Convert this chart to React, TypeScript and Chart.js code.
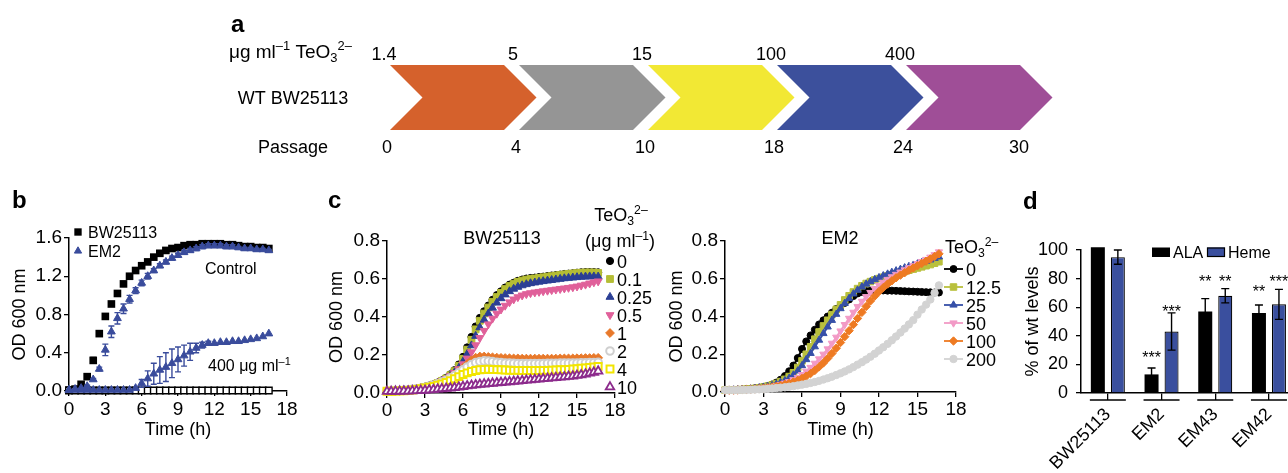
import React, { useEffect, useRef } from 'react';
import { Chart, registerables } from 'chart.js';
import { drawPoint } from 'chart.js/helpers';

Chart.register(...registerables);

const FONT = '"Liberation Sans", Arial, Helvetica, sans-serif';
const PAGE_W = 1288;
const PAGE_H = 473;

// ---------------- Panel a: passage scheme ----------------
const PASSAGES = ['0', '4', '10', '18', '24', '30'];
const TEO3_STEPS = ['1.4', '5', '15', '100', '400'];
const STEP_COLORS = ['#d5612c', '#959595', '#f2e834', '#3c509c', '#9f4e97'];

// ---------------- Panel b: growth curves ----------------
const TIME_B = [0, 0.5, 1, 1.5, 2, 2.5, 3, 3.5, 4, 4.5, 5, 5.5, 6, 6.5, 7, 7.5, 8, 8.5, 9, 9.5, 10, 10.5, 11, 11.5, 12, 12.5, 13, 13.5, 14, 14.5, 15, 15.5, 16, 16.5];
const B_BW_CONTROL = [0.01, 0.02, 0.07, 0.15, 0.32, 0.6, 0.78, 0.91, 1.02, 1.12, 1.2, 1.26, 1.31, 1.35, 1.4, 1.44, 1.47, 1.49, 1.5, 1.52, 1.53, 1.53, 1.54, 1.54, 1.54, 1.54, 1.53, 1.53, 1.52, 1.51, 1.51, 1.5, 1.5, 1.49];
const B_BW_CONTROL_SD = [0, 0, 0, 0.01, 0.03, 0.02, 0.01, 0.01, 0, 0, 0, 0, 0, 0, 0, 0, 0, 0, 0, 0, 0, 0, 0, 0, 0, 0, 0, 0, 0, 0, 0, 0, 0, 0];
const B_BW_400 = [0.005, 0.005, 0.005, 0.005, 0.005, 0.005, 0.005, 0.005, 0.005, 0.005, 0.005, 0.005, 0.005, 0.005, 0.005, 0.005, 0.005, 0.005, 0.005, 0.005, 0.005, 0.005, 0.005, 0.005, 0.005, 0.005, 0.005, 0.005, 0.005, 0.005, 0.005, 0.005, 0.005, 0.005];
const B_EM2_CONTROL = [0.01, 0.02, 0.03, 0.05, 0.12, 0.23, 0.43, 0.62, 0.76, 0.86, 0.96, 1.05, 1.13, 1.2, 1.26, 1.31, 1.35, 1.39, 1.42, 1.45, 1.47, 1.49, 1.51, 1.52, 1.52, 1.52, 1.51, 1.51, 1.5, 1.49, 1.49, 1.48, 1.48, 1.47];
const B_EM2_CONTROL_SD = [0, 0, 0, 0.01, 0.01, 0.02, 0.06, 0.06, 0.06, 0.05, 0.04, 0.03, 0.03, 0.03, 0.02, 0.02, 0.02, 0.02, 0.02, 0.02, 0.02, 0.02, 0.02, 0.02, 0.02, 0.02, 0.02, 0.02, 0.01, 0.01, 0.01, 0.01, 0.01, 0.01];
const B_EM2_400 = [0.01, 0.01, 0.01, 0.01, 0.01, 0.01, 0.01, 0.01, 0.01, 0.01, 0.01, 0.03, 0.08, 0.13, 0.18, 0.22, 0.25, 0.29, 0.33, 0.37, 0.41, 0.45, 0.48, 0.5, 0.5, 0.51, 0.51, 0.52, 0.52, 0.53, 0.54, 0.55, 0.57, 0.6];
const B_EM2_400_SD = [0, 0, 0, 0, 0, 0, 0, 0, 0, 0, 0, 0, 0.04, 0.08, 0.11, 0.14, 0.15, 0.15, 0.13, 0.11, 0.09, 0.05, 0.03, 0.02, 0, 0, 0, 0, 0, 0, 0, 0, 0, 0];

// ---------------- Panel c: tellurite dose series ----------------
const TIME_C = [0, 0.33, 0.67, 1, 1.33, 1.67, 2, 2.33, 2.67, 3, 3.33, 3.67, 4, 4.33, 4.67, 5, 5.33, 5.67, 6, 6.33, 6.67, 7, 7.33, 7.67, 8, 8.33, 8.67, 9, 9.33, 9.67, 10, 10.33, 10.67, 11, 11.33, 11.67, 12, 12.33, 12.67, 13, 13.33, 13.67, 14, 14.33, 14.67, 15, 15.33, 15.67, 16, 16.33, 16.67];

const C_BW_LABELS = ['0', '0.1', '0.25', '0.5', '1', '2', '4', '10'];
const C_BW_0 = [0.010, 0.010, 0.012, 0.013, 0.015, 0.017, 0.020, 0.023, 0.027, 0.032, 0.038, 0.045, 0.055, 0.066, 0.080, 0.098, 0.120, 0.150, 0.190, 0.240, 0.295, 0.350, 0.395, 0.430, 0.460, 0.490, 0.515, 0.535, 0.555, 0.570, 0.580, 0.590, 0.597, 0.602, 0.605, 0.607, 0.610, 0.612, 0.615, 0.618, 0.620, 0.623, 0.626, 0.628, 0.630, 0.633, 0.635, 0.636, 0.636, 0.636, 0.635];
const C_BW_01 = [0.010, 0.010, 0.011, 0.012, 0.014, 0.016, 0.019, 0.022, 0.026, 0.031, 0.037, 0.044, 0.053, 0.064, 0.077, 0.094, 0.115, 0.143, 0.180, 0.228, 0.280, 0.335, 0.380, 0.418, 0.450, 0.480, 0.505, 0.527, 0.547, 0.563, 0.575, 0.585, 0.592, 0.597, 0.600, 0.603, 0.606, 0.609, 0.612, 0.615, 0.618, 0.621, 0.624, 0.627, 0.629, 0.631, 0.633, 0.634, 0.634, 0.634, 0.632];
const C_BW_025 = [0.010, 0.010, 0.011, 0.012, 0.014, 0.016, 0.019, 0.022, 0.026, 0.030, 0.036, 0.043, 0.052, 0.062, 0.074, 0.090, 0.108, 0.132, 0.165, 0.205, 0.250, 0.300, 0.345, 0.385, 0.418, 0.448, 0.475, 0.498, 0.518, 0.535, 0.548, 0.558, 0.566, 0.572, 0.577, 0.581, 0.585, 0.588, 0.591, 0.594, 0.597, 0.600, 0.603, 0.605, 0.607, 0.609, 0.611, 0.612, 0.613, 0.613, 0.612];
const C_BW_05 = [0.010, 0.010, 0.011, 0.012, 0.014, 0.016, 0.019, 0.022, 0.026, 0.030, 0.036, 0.043, 0.052, 0.062, 0.074, 0.089, 0.106, 0.126, 0.152, 0.182, 0.215, 0.252, 0.290, 0.328, 0.362, 0.392, 0.418, 0.440, 0.460, 0.478, 0.493, 0.505, 0.514, 0.521, 0.526, 0.530, 0.533, 0.536, 0.539, 0.542, 0.545, 0.548, 0.551, 0.554, 0.557, 0.561, 0.566, 0.571, 0.577, 0.583, 0.588];
const C_BW_1 = [0.010, 0.010, 0.011, 0.012, 0.014, 0.016, 0.019, 0.022, 0.026, 0.030, 0.036, 0.043, 0.051, 0.060, 0.071, 0.084, 0.098, 0.114, 0.132, 0.152, 0.172, 0.186, 0.192, 0.192, 0.190, 0.188, 0.186, 0.185, 0.184, 0.183, 0.182, 0.182, 0.181, 0.181, 0.181, 0.181, 0.181, 0.181, 0.181, 0.181, 0.181, 0.182, 0.182, 0.182, 0.182, 0.183, 0.183, 0.184, 0.184, 0.185, 0.185];
const C_BW_2 = [0.010, 0.010, 0.011, 0.012, 0.014, 0.016, 0.019, 0.022, 0.025, 0.029, 0.035, 0.041, 0.049, 0.057, 0.067, 0.079, 0.092, 0.107, 0.122, 0.137, 0.150, 0.160, 0.166, 0.169, 0.168, 0.165, 0.162, 0.160, 0.158, 0.157, 0.156, 0.155, 0.155, 0.155, 0.155, 0.155, 0.155, 0.155, 0.156, 0.156, 0.156, 0.157, 0.157, 0.157, 0.158, 0.158, 0.159, 0.159, 0.160, 0.160, 0.161];
const C_BW_4 = [0.009, 0.009, 0.010, 0.011, 0.012, 0.014, 0.016, 0.019, 0.022, 0.026, 0.030, 0.035, 0.041, 0.048, 0.056, 0.065, 0.075, 0.086, 0.097, 0.106, 0.113, 0.118, 0.122, 0.124, 0.125, 0.124, 0.123, 0.122, 0.121, 0.120, 0.119, 0.119, 0.118, 0.118, 0.118, 0.118, 0.118, 0.119, 0.119, 0.120, 0.121, 0.122, 0.123, 0.124, 0.126, 0.128, 0.130, 0.132, 0.134, 0.137, 0.140];
const C_BW_10 = [0.008, 0.008, 0.009, 0.009, 0.010, 0.010, 0.011, 0.012, 0.013, 0.014, 0.016, 0.018, 0.020, 0.022, 0.024, 0.026, 0.028, 0.031, 0.034, 0.037, 0.040, 0.043, 0.045, 0.047, 0.049, 0.051, 0.053, 0.055, 0.057, 0.059, 0.061, 0.063, 0.065, 0.067, 0.069, 0.071, 0.073, 0.075, 0.077, 0.079, 0.081, 0.083, 0.085, 0.087, 0.089, 0.092, 0.095, 0.099, 0.104, 0.109, 0.115];
const C_BW_SERIES = [C_BW_0, C_BW_01, C_BW_025, C_BW_05, C_BW_1, C_BW_2, C_BW_4, C_BW_10];

const C_EM_LABELS = ['0', '12.5', '25', '50', '100', '200'];
const C_EM_0 = [0.010, 0.010, 0.011, 0.012, 0.013, 0.015, 0.017, 0.020, 0.023, 0.027, 0.032, 0.040, 0.050, 0.065, 0.085, 0.110, 0.140, 0.180, 0.228, 0.268, 0.300, 0.330, 0.358, 0.380, 0.400, 0.420, 0.440, 0.456, 0.472, 0.490, 0.508, 0.522, 0.530, 0.535, 0.537, 0.538, 0.538, 0.538, 0.537, 0.537, 0.536, 0.535, 0.534, 0.533, 0.532, 0.531, 0.530, 0.529, 0.528, 0.527, 0.527];
const C_EM_125 = [0.010, 0.010, 0.011, 0.012, 0.013, 0.015, 0.017, 0.019, 0.022, 0.026, 0.031, 0.037, 0.045, 0.055, 0.067, 0.082, 0.102, 0.130, 0.165, 0.200, 0.240, 0.280, 0.318, 0.350, 0.380, 0.410, 0.438, 0.462, 0.488, 0.510, 0.530, 0.548, 0.563, 0.575, 0.585, 0.594, 0.601, 0.608, 0.615, 0.621, 0.627, 0.633, 0.639, 0.645, 0.651, 0.657, 0.663, 0.669, 0.675, 0.682, 0.690];
const C_EM_25 = [0.010, 0.010, 0.011, 0.012, 0.013, 0.014, 0.016, 0.019, 0.022, 0.025, 0.029, 0.034, 0.041, 0.050, 0.060, 0.073, 0.090, 0.112, 0.140, 0.172, 0.205, 0.240, 0.275, 0.310, 0.345, 0.380, 0.412, 0.442, 0.470, 0.496, 0.520, 0.540, 0.557, 0.572, 0.585, 0.596, 0.606, 0.616, 0.625, 0.634, 0.642, 0.650, 0.658, 0.665, 0.672, 0.679, 0.686, 0.693, 0.700, 0.708, 0.716];
const C_EM_50 = [0.010, 0.010, 0.010, 0.011, 0.012, 0.013, 0.015, 0.017, 0.019, 0.022, 0.025, 0.029, 0.034, 0.040, 0.047, 0.055, 0.065, 0.077, 0.092, 0.110, 0.130, 0.152, 0.175, 0.200, 0.228, 0.258, 0.290, 0.323, 0.357, 0.390, 0.422, 0.452, 0.480, 0.505, 0.527, 0.547, 0.565, 0.581, 0.596, 0.610, 0.623, 0.635, 0.647, 0.658, 0.669, 0.680, 0.691, 0.702, 0.714, 0.727, 0.742];
const C_EM_100 = [0.010, 0.010, 0.010, 0.011, 0.012, 0.013, 0.014, 0.016, 0.018, 0.020, 0.023, 0.026, 0.030, 0.035, 0.040, 0.046, 0.053, 0.062, 0.072, 0.084, 0.098, 0.114, 0.133, 0.154, 0.178, 0.204, 0.232, 0.262, 0.293, 0.325, 0.357, 0.390, 0.422, 0.453, 0.482, 0.508, 0.532, 0.553, 0.572, 0.589, 0.605, 0.619, 0.632, 0.645, 0.657, 0.669, 0.681, 0.693, 0.705, 0.718, 0.732];
const C_EM_200 = [0.010, 0.010, 0.010, 0.010, 0.011, 0.011, 0.012, 0.013, 0.014, 0.015, 0.017, 0.019, 0.021, 0.023, 0.025, 0.028, 0.031, 0.035, 0.039, 0.043, 0.048, 0.053, 0.059, 0.066, 0.073, 0.081, 0.090, 0.099, 0.109, 0.120, 0.132, 0.145, 0.158, 0.172, 0.187, 0.203, 0.220, 0.237, 0.255, 0.274, 0.294, 0.315, 0.336, 0.358, 0.381, 0.410, 0.437, 0.463, 0.490, 0.525, 0.565];
const C_EM_SERIES = [C_EM_0, C_EM_125, C_EM_25, C_EM_50, C_EM_100, C_EM_200];

// ---------------- Panel d: ALA / heme levels ----------------
const D_STRAINS = ['BW25113', 'EM2', 'EM43', 'EM42'];
const D_ALA = [102, 13, 57, 56];
const D_ALA_SD = [0, 4.5, 9, 5.5];
const D_HEME = [95, 43, 68, 62];
const D_HEME_SD = [5, 13, 5, 10.5];
const D_ALA_STARS = ['', '***', '**', '**'];
const D_HEME_STARS = ['', '***', '**', '***'];
const D_ALA_STAR_AT = [0, 27, 80, 73];
const D_HEME_STAR_AT = [0, 59, 80, 80];

// ---------------- styles ----------------
const BLUE = '#3a4c9c';
const BLUE_D = '#3a4f9e';
const C_BW_STYLES = [
  { color: '#000000', fill: '#000000', style: 'circle', r: 3.6, rot: 0, bw: 1 },
  { color: '#b5bd35', fill: '#b5bd35', style: 'rect', r: 4.8, rot: 0, bw: 1 },
  { color: '#2b3f95', fill: '#2b3f95', style: 'triangle', r: 4.6, rot: 0, bw: 1 },
  { color: '#e0609a', fill: '#e0609a', style: 'triangle', r: 4.6, rot: 180, bw: 1 },
  { color: '#e8792b', fill: '#e8792b', style: 'rectRot', r: 4.4, rot: 0, bw: 1 },
  { color: '#cfcfcf', fill: '#ffffff', style: 'circle', r: 3.8, rot: 0, bw: 2 },
  { color: '#f2e500', fill: '#ffffff', style: 'rect', r: 4.9, rot: 0, bw: 2 },
  { color: '#8c2b8c', fill: '#ffffff', style: 'triangle', r: 4.9, rot: 0, bw: 1.8 },
];
const C_EM_STYLES = [
  { color: '#000000', style: 'circle', r: 3.5, rot: 0 },
  { color: '#b9c03d', style: 'rect', r: 4.6, rot: 0 },
  { color: '#3650a8', style: 'triangle', r: 4.2, rot: 0 },
  { color: '#f29ac6', style: 'triangle', r: 4.2, rot: 180 },
  { color: '#ee7a22', style: 'rectRot', r: 4.2, rot: 0 },
  { color: '#d3d3d3', style: 'circle', r: 3.7, rot: 0 },
];

type Area = { l: number; r: number; t: number; b: number };
type Seg = [string, string?];

function padding(area: Area, yW: number, xH: number, cw: number, ch: number) {
  return { left: area.l - yW, right: cw - area.r, top: area.t, bottom: ch - area.b - xH };
}

function valueAxis(o: any) {
  return {
    type: 'linear',
    min: o.min,
    max: o.max,
    ticks: {
      stepSize: o.step,
      color: '#000',
      font: { family: FONT, size: o.tickSize ?? 18 },
      padding: o.tickPad,
      autoSkip: false,
      maxRotation: 0,
      callback: (v: any) => Number(v).toFixed(o.dec),
    },
    grid: { display: true, drawOnChartArea: false, drawTicks: true, tickLength: o.tickLen ?? 5, color: '#000', lineWidth: 1.3 },
    border: { display: true, color: '#000', width: 1.5 },
    title: { display: true, text: o.title, color: '#000', font: { family: FONT, size: 18, lineHeight: 1 }, padding: 0 },
    afterFit: (s: any) => {
      if (o.horizontal) s.height = o.size;
      else s.width = o.size;
    },
  };
}

function pts(xs: number[], ys: number[]) {
  return xs.map((x, i) => ({ x, y: ys[i] }));
}

function txt(ctx: CanvasRenderingContext2D, s: string, x: number, y: number, size: number, align: CanvasTextAlign = 'left', weight = 'normal') {
  ctx.font = `${weight} ${size}px ${FONT}`;
  ctx.textAlign = align;
  ctx.textBaseline = 'alphabetic';
  ctx.fillStyle = '#000';
  ctx.fillText(s, x, y);
}

function rich(ctx: CanvasRenderingContext2D, segs: Seg[], x: number, y: number, size: number, align: 'left' | 'center' = 'left') {
  const small = size * 0.68;
  const ws = segs.map(([t, k]) => {
    ctx.font = `${k ? small : size}px ${FONT}`;
    return ctx.measureText(t).width;
  });
  const total = ws.reduce((a, b) => a + b, 0);
  let cx = align === 'center' ? x - total / 2 : x;
  ctx.textAlign = 'left';
  ctx.textBaseline = 'alphabetic';
  ctx.fillStyle = '#000';
  segs.forEach(([t, k], i) => {
    ctx.font = `${k ? small : size}px ${FONT}`;
    const dy = k === 'sup' ? -size * 0.4 : k === 'sub' ? size * 0.22 : 0;
    ctx.fillText(t, cx, y + dy);
    cx += ws[i];
  });
}

function marker(ctx: CanvasRenderingContext2D, st: any, x: number, y: number, fill?: string) {
  ctx.save();
  ctx.fillStyle = fill ?? st.fill ?? st.color;
  ctx.strokeStyle = st.color;
  ctx.lineWidth = st.bw ?? 1;
  drawPoint(ctx, { pointStyle: st.style, rotation: st.rot ?? 0, radius: st.r, borderWidth: st.bw ?? 1 } as any, x, y);
  ctx.restore();
}

const TEO3: Seg[] = [['TeO'], ['3', 'sub'], ['2–', 'sup']];
const UG_ML: Seg[] = [['μg ml'], ['–1', 'sup']];

const errorBars = {
  id: 'errorBars',
  afterDatasetsDraw(chart: any) {
    const ctx = chart.ctx;
    const ys = chart.scales.y;
    chart.data.datasets.forEach((ds: any, i: number) => {
      if (!ds.errors) return;
      const meta = chart.getDatasetMeta(i);
      ctx.save();
      ctx.strokeStyle = ds.errorColor;
      ctx.lineWidth = 1.4;
      meta.data.forEach((el: any, j: number) => {
        const e = ds.errors[j];
        if (!e) return;
        const raw = ds.data[j];
        const v = typeof raw === 'number' ? raw : raw.y;
        const top = ys.getPixelForValue(v + e);
        const bot = ys.getPixelForValue(v - e);
        const cap = ds.errorCap ?? 3;
        ctx.beginPath();
        ctx.moveTo(el.x, top);
        ctx.lineTo(el.x, bot);
        ctx.moveTo(el.x - cap, top);
        ctx.lineTo(el.x + cap, top);
        ctx.moveTo(el.x - cap, bot);
        ctx.lineTo(el.x + cap, bot);
        ctx.stroke();
      });
      ctx.restore();
    });
  },
};

const baseOpts = {
  responsive: false,
  animation: false,
  devicePixelRatio: 1,
  events: [],
};
const noLegend = { legend: { display: false }, tooltip: { enabled: false } };

function makeA(canvas: HTMLCanvasElement) {
  const area = { l: 390, r: 390 + 129 * STEP_COLORS.length, t: 65, b: 130 };
  const GAP = 15;
  return new Chart(canvas, {
    type: 'scatter',
    data: { datasets: [] },
    options: {
      ...baseOpts,
      plugins: noLegend,
      layout: { padding: { left: area.l, right: PAGE_W - area.r, top: area.t, bottom: PAGE_H - area.b } },
      scales: {
        x: { type: 'linear', min: 0, max: STEP_COLORS.length, display: false },
        y: { type: 'linear', min: 0, max: 1, display: false },
      },
    } as any,
    plugins: [
      {
        id: 'chevrons',
        afterDraw(chart: any) {
          const ctx = chart.ctx;
          const xs = chart.scales.x;
          const ys = chart.scales.y;
          const yT = ys.getPixelForValue(1);
          const yB = ys.getPixelForValue(0);
          const h2 = (yB - yT) / 2;
          const ym = yT + h2;
          STEP_COLORS.forEach((c, i) => {
            const xL = xs.getPixelForValue(i);
            const xR = xs.getPixelForValue(i + 1) - GAP;
            ctx.beginPath();
            ctx.moveTo(xL, yT);
            ctx.lineTo(xR, yT);
            ctx.lineTo(xR + h2, ym);
            ctx.lineTo(xR, yB);
            ctx.lineTo(xL, yB);
            ctx.lineTo(xL + h2, ym);
            ctx.closePath();
            ctx.fillStyle = c;
            ctx.fill();
          });
          TEO3_STEPS.forEach((s, i) => txt(ctx, s, xs.getPixelForValue(i) - 6, yT - 5.5, 18, 'center'));
          PASSAGES.forEach((s, i) => {
            const x = i < PASSAGES.length - 1 ? xs.getPixelForValue(i) - 3 : xs.getPixelForValue(i) - GAP - 1;
            txt(ctx, s, x, yB + 22.5, 18, 'center');
          });
          txt(ctx, 'a', 231, 32, 24, 'left', 'bold');
          rich(ctx, [...UG_ML, [' '], ...TEO3], 229, 58, 19);
          txt(ctx, 'WT BW25113', 293, ym + 6.5, 18, 'center');
          txt(ctx, 'Passage', 293, yB + 22.5, 18, 'center');
        },
      },
    ],
  });
}

function makeB(canvas: HTMLCanvasElement) {
  const area = { l: 69, r: 287, t: 238, b: 391 };
  const yW = 58;
  const xH = 48;
  const bwStyle = { color: '#000', fill: '#000', style: 'rect', r: 5.2, bw: 0 };
  const emStyle = { color: BLUE, fill: BLUE, style: 'triangle', r: 4.2, bw: 1 };
  return new Chart(canvas, {
    type: 'scatter',
    data: {
      datasets: [
        { data: pts(TIME_B, B_BW_CONTROL), pointStyle: 'rect', pointRadius: 5.4, pointBackgroundColor: '#000', pointBorderColor: '#000', pointBorderWidth: 0, errors: B_BW_CONTROL_SD, errorColor: '#000', order: 0, clip: false },
        { data: pts(TIME_B, B_BW_400), pointStyle: 'rect', pointRadius: 4.6, pointBackgroundColor: '#fff', pointBorderColor: '#000', pointBorderWidth: 1.4, order: -1, clip: false },
        { data: pts(TIME_B, B_EM2_CONTROL), pointStyle: 'triangle', pointRadius: 4.5, pointBackgroundColor: BLUE, pointBorderColor: BLUE, pointBorderWidth: 1, errors: B_EM2_CONTROL_SD, errorColor: BLUE, order: -2, clip: false },
        { data: pts(TIME_B, B_EM2_400), pointStyle: 'triangle', pointRadius: 4.5, pointBackgroundColor: BLUE, pointBorderColor: BLUE, pointBorderWidth: 1, errors: B_EM2_400_SD, errorColor: BLUE, order: -3, clip: false },
      ],
    },
    options: {
      ...baseOpts,
      plugins: noLegend,
      layout: { padding: padding(area, yW, xH, PAGE_W, PAGE_H) },
      scales: {
        x: valueAxis({ min: 0, max: 18, step: 3, dec: 0, title: 'Time (h)', horizontal: true, size: xH, tickPad: 2, tickSize: 19 }),
        y: valueAxis({ min: 0, max: 1.6, step: 0.4, dec: 1, title: 'OD 600 nm', horizontal: false, size: yW, tickPad: 2, tickSize: 19 }),
      },
    } as any,
    plugins: [
      errorBars,
      {
        id: 'annotB',
        afterDraw(chart: any) {
          const ctx = chart.ctx;
          txt(ctx, 'b', 12, 208, 24, 'left', 'bold');
          marker(ctx, bwStyle, 78, 232);
          txt(ctx, 'BW25113', 88, 238, 16);
          marker(ctx, emStyle, 78, 251);
          txt(ctx, 'EM2', 88, 257, 16);
          txt(ctx, 'Control', 205, 274, 16);
          rich(ctx, [['400 '], ...UG_ML], 208, 371, 16);
        },
      },
    ],
  });
}

function makeCBW(canvas: HTMLCanvasElement) {
  const area = { l: 387, r: 615, t: 241, b: 393 };
  const yW = 59;
  const xH = 46;
  return new Chart(canvas, {
    type: 'scatter',
    data: {
      datasets: C_BW_SERIES.map((ys, i) => {
        const st = C_BW_STYLES[i];
        return {
          data: pts(TIME_C, ys),
          pointStyle: st.style,
          pointRotation: st.rot,
          pointRadius: st.r,
          pointBackgroundColor: st.fill,
          pointBorderColor: st.color,
          pointBorderWidth: st.bw,
          showLine: false,
          order: -i,
          clip: false,
        };
      }),
    },
    options: {
      ...baseOpts,
      plugins: noLegend,
      layout: { padding: padding(area, yW, xH, PAGE_W, PAGE_H) },
      scales: {
        x: valueAxis({ min: 0, max: 18, step: 3, dec: 0, title: 'Time (h)', horizontal: true, size: xH, tickPad: 1, tickSize: 19 }),
        y: valueAxis({ min: 0, max: 0.8, step: 0.2, dec: 1, title: 'OD 600 nm', horizontal: false, size: yW, tickPad: 2, tickSize: 19 }),
      },
    } as any,
    plugins: [
      {
        id: 'annotCBW',
        afterDraw(chart: any) {
          const ctx = chart.ctx;
          txt(ctx, 'c', 328, 208, 24, 'left', 'bold');
          txt(ctx, 'BW25113', 502, 243.5, 18, 'center');
          rich(ctx, TEO3, 621, 221, 18, 'center');
          rich(ctx, [['('], ...UG_ML, [')']], 620, 247, 18, 'center');
          C_BW_LABELS.forEach((lab, i) => {
            const y = 261 + 18 * i;
            marker(ctx, C_BW_STYLES[i], 610, y);
            txt(ctx, lab, 617, y + 6.5, 18);
          });
        },
      },
    ],
  });
}

function makeCEM(canvas: HTMLCanvasElement) {
  const area = { l: 725, r: 956, t: 241, b: 392 };
  const yW = 57;
  const xH = 47;
  return new Chart(canvas, {
    type: 'scatter',
    data: {
      datasets: C_EM_SERIES.map((ys, i) => {
        const st = C_EM_STYLES[i];
        return {
          data: pts(TIME_C, ys),
          showLine: true,
          borderColor: st.color,
          borderWidth: 2,
          pointStyle: st.style,
          pointRotation: st.rot,
          pointRadius: st.r,
          pointBackgroundColor: st.color,
          pointBorderColor: st.color,
          pointBorderWidth: 1,
          order: -i,
          clip: false,
        };
      }),
    },
    options: {
      ...baseOpts,
      plugins: noLegend,
      layout: { padding: padding(area, yW, xH, PAGE_W, PAGE_H) },
      scales: {
        x: valueAxis({ min: 0, max: 18, step: 3, dec: 0, title: 'Time (h)', horizontal: true, size: xH, tickPad: 1, tickSize: 19 }),
        y: valueAxis({ min: 0, max: 0.8, step: 0.2, dec: 1, title: 'OD 600 nm', horizontal: false, size: yW, tickPad: 2, tickSize: 19 }),
      },
    } as any,
    plugins: [
      {
        id: 'annotCEM',
        afterDraw(chart: any) {
          const ctx = chart.ctx;
          txt(ctx, 'EM2', 840, 243.5, 18, 'center');
          rich(ctx, TEO3, 945, 253, 18);
          C_EM_LABELS.forEach((lab, i) => {
            const y = 269 + 18 * i;
            const st = C_EM_STYLES[i];
            ctx.save();
            ctx.strokeStyle = st.color;
            ctx.lineWidth = 1.8;
            ctx.beginPath();
            ctx.moveTo(944, y);
            ctx.lineTo(963, y);
            ctx.stroke();
            ctx.restore();
            marker(ctx, { ...st, bw: 1 }, 953.5, y, st.color);
            txt(ctx, lab, 966, y + 6.5, 18);
          });
        },
      },
    ],
  });
}

function makeD(canvas: HTMLCanvasElement, cw: number) {
  const area = { l: 1081, r: 1081 + 53.7 * D_STRAINS.length, t: 250, b: 393 };
  const yW = 57;
  const xH = 80;
  return new Chart(canvas, {
    type: 'bar',
    data: {
      labels: D_STRAINS,
      datasets: [
        { label: 'ALA', data: D_ALA, errors: D_ALA_SD, errorColor: '#000', errorCap: 4, stars: D_ALA_STARS, starAt: D_ALA_STAR_AT, backgroundColor: '#000', borderColor: '#000', borderWidth: 0, barPercentage: 0.7, categoryPercentage: 0.745, clip: false },
        { label: 'Heme', data: D_HEME, errors: D_HEME_SD, errorColor: '#000', errorCap: 4, stars: D_HEME_STARS, starAt: D_HEME_STAR_AT, backgroundColor: BLUE_D, borderColor: '#000', borderWidth: 1.2, barPercentage: 0.7, categoryPercentage: 0.745, clip: false },
      ],
    },
    options: {
      ...baseOpts,
      plugins: noLegend,
      layout: { padding: padding(area, yW, xH, cw, PAGE_H) },
      scales: {
        x: {
          type: 'category',
          offset: true,
          grid: { display: true, offset: false, drawOnChartArea: false, drawTicks: true, tickLength: 7, color: '#000', lineWidth: 1.3 },
          border: { display: true, color: '#000', width: 1.5 },
          ticks: { color: '#000', font: { family: FONT, size: 18 }, minRotation: 45, maxRotation: 45, padding: 4, autoSkip: false },
          afterFit: (s: any) => {
            s.height = xH;
          },
        },
        y: valueAxis({ min: 0, max: 100, step: 20, dec: 0, title: '% of wt levels', horizontal: false, size: yW, tickPad: 8 }),
      },
    } as any,
    plugins: [
      errorBars,
      {
        id: 'annotD',
        afterDraw(chart: any) {
          const ctx = chart.ctx;
          const xs = chart.scales.x;
          const ys = chart.scales.y;
          txt(ctx, 'd', 1023, 209, 24, 'left', 'bold');
          ctx.save();
          ctx.strokeStyle = '#000';
          ctx.lineWidth = 1.3;
          D_STRAINS.forEach((_, i) => {
            const x = xs.getPixelForValue(i);
            const y = xs.top + 7;
            ctx.beginPath();
            ctx.moveTo(x - 18, y);
            ctx.lineTo(x + 18, y);
            ctx.stroke();
          });
          ctx.restore();
          chart.data.datasets.forEach((ds: any, di: number) => {
            const meta = chart.getDatasetMeta(di);
            meta.data.forEach((el: any, j: number) => {
              const s = ds.stars[j];
              if (!s) return;
              ctx.font = `16px ${FONT}`;
              ctx.textAlign = 'center';
              ctx.textBaseline = 'middle';
              ctx.fillStyle = '#000';
              ctx.fillText(s, el.x, ys.getPixelForValue(ds.starAt[j]) + 4);
            });
          });
          ctx.fillStyle = '#000';
          ctx.fillRect(1152, 247.5, 18, 9.5);
          txt(ctx, 'ALA', 1173, 258, 16);
          ctx.fillStyle = BLUE_D;
          ctx.fillRect(1207, 247.5, 18, 9.5);
          ctx.strokeStyle = '#000';
          ctx.lineWidth = 1.2;
          ctx.strokeRect(1207.5, 248, 17, 8.5);
          txt(ctx, 'Heme', 1228, 258, 16);
        },
      },
    ],
  });
}

const CANVAS_SIZES = [
  { w: PAGE_W, h: PAGE_H },
  { w: PAGE_W, h: PAGE_H },
  { w: PAGE_W, h: PAGE_H },
  { w: PAGE_W, h: PAGE_H },
  { w: 1340, h: PAGE_H },
];

export default function App() {
  const r0 = useRef<HTMLCanvasElement>(null);
  const r1 = useRef<HTMLCanvasElement>(null);
  const r2 = useRef<HTMLCanvasElement>(null);
  const r3 = useRef<HTMLCanvasElement>(null);
  const r4 = useRef<HTMLCanvasElement>(null);
  const refs = [r0, r1, r2, r3, r4];

  useEffect(() => {
    Chart.defaults.font.family = FONT;
    Chart.defaults.color = '#000';
    const charts = [
      makeA(r0.current!),
      makeB(r1.current!),
      makeCBW(r2.current!),
      makeCEM(r3.current!),
      makeD(r4.current!, CANVAS_SIZES[4].w),
    ];
    return () => charts.forEach((c) => c.destroy());
  }, []);

  return (
    <div style={{ position: 'fixed', left: 0, top: 0, width: PAGE_W, height: PAGE_H, overflow: 'hidden', background: '#fff' }}>
      {CANVAS_SIZES.map((s, i) => (
        <canvas
          key={i}
          ref={refs[i]}
          width={s.w}
          height={s.h}
          style={{ position: 'absolute', left: 0, top: 0, width: s.w, height: s.h, display: 'block' }}
        />
      ))}
    </div>
  );
}
